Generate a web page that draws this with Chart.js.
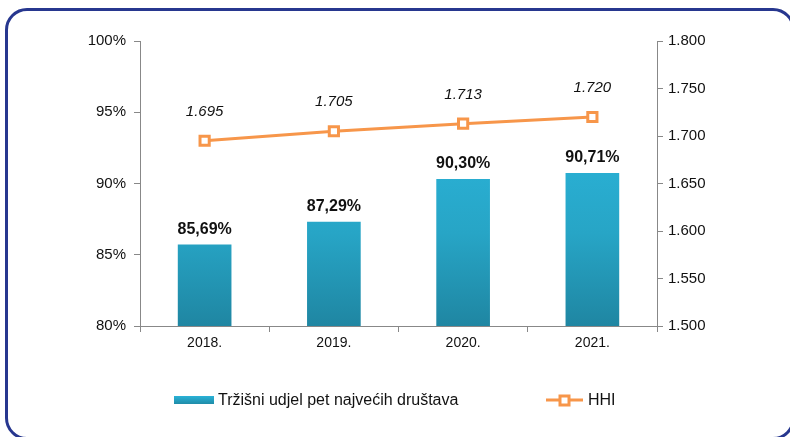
<!DOCTYPE html>
<html>
<head>
<meta charset="utf-8">
<script src="https://cdn.jsdelivr.net/npm/chart.js@4.4.1/dist/chart.umd.min.js"></script>
<style>
  html, body { margin: 0; padding: 0; background: #fff; overflow: hidden; }
  #wrap { position: relative; width: 790px; height: 437px; }
  #frame {
    position: absolute; left: 5px; top: 8px; width: 790px; height: 432px;
    border: 3px solid #27378f; border-radius: 22px; box-sizing: border-box;
  }
  canvas { position: absolute; left: 0; top: 0; }
</style>
</head>
<body>
<div id="wrap">
  <div id="frame"></div>
  <canvas id="chart" width="790" height="437"></canvas>
</div>
<script>
// podaci s grafikona
const years = ["2018.", "2019.", "2020.", "2021."];
const shareTop5 = [85.69, 87.29, 90.30, 90.71];
const hhi = [1695, 1705, 1713, 1720];
const barLabel = "Tržišni udjel pet najvećih društava";
const lineLabel = "HHI";

const ORANGE = "#f7964a";
const FONT = "'Liberation Sans', Arial, sans-serif";

function fmtThousands(v) {
    const s = Math.round(v).toString();
    return s.replace(/\B(?=(\d{3})+(?!\d))/g, ".");
}

function barGradient(ctx) {
    const chart = ctx.chart;
    const area = chart.chartArea;
    if (!area) return "#27a9cc";
    const g = chart.ctx.createLinearGradient(0, area.top + 100, 0, area.bottom);
    g.addColorStop(0, "#2ab2d7");
    g.addColorStop(0.5, "#27a5c6");
    g.addColorStop(1, "#1f86a2");
    return g;
}

// oznake vrijednosti iznad stupaca i točaka
const valueLabels = {
    id: "valueLabels",
    afterDatasetsDraw(chart) {
        const ctx = chart.ctx;
        ctx.save();
        ctx.textAlign = "center";
        ctx.textBaseline = "alphabetic";
        ctx.fillStyle = "#111";

        const barMeta = chart.getDatasetMeta(0);
        ctx.font = "bold 16px " + FONT;
        barMeta.data.forEach((el, i) => {
            const txt = shareTop5[i].toFixed(2).replace(".", ",") + "%";
            ctx.fillText(txt, el.x, el.y - 11);
        });

        const lineMeta = chart.getDatasetMeta(1);
        ctx.font = "italic 15px " + FONT;
        lineMeta.data.forEach((el, i) => {
            ctx.fillText(fmtThousands(hhi[i]), el.x, el.y - 25);
        });
        ctx.restore();
    }
};

// legenda ispod grafikona
const customLegend = {
    id: "customLegend",
    afterDraw(chart) {
        const ctx = chart.ctx;
        const y = 400;
        ctx.save();
        ctx.font = "16px " + FONT;
        ctx.textBaseline = "middle";
        ctx.fillStyle = "#111";

        // stupac
        let x = 174;
        const g = ctx.createLinearGradient(0, y - 4, 0, y + 4);
        g.addColorStop(0, "#2ab2d7");
        g.addColorStop(1, "#1f8ca8");
        ctx.fillStyle = g;
        ctx.fillRect(x, y - 4, 40, 8);
        ctx.fillStyle = "#111";
        ctx.fillText(chart.data.datasets[0].label, x + 44, y + 1);

        // linija
        x = 546;
        ctx.strokeStyle = ORANGE;
        ctx.lineWidth = 3;
        ctx.beginPath();
        ctx.moveTo(x, y);
        ctx.lineTo(x + 37, y);
        ctx.stroke();
        ctx.fillStyle = "#fff";
        ctx.fillRect(x + 14, y - 4, 9, 9);
        ctx.strokeRect(x + 14, y - 4, 9, 9);
        ctx.fillStyle = "#111";
        ctx.fillText(chart.data.datasets[1].label, x + 42, y + 1);
        ctx.restore();
    }
};

const canvas = document.getElementById("chart");

new Chart(canvas.getContext("2d"), {
    type: "bar",
    data: {
        labels: years,
        datasets: [
            {
                type: "bar",
                label: barLabel,
                data: shareTop5,
                yAxisID: "y",
                backgroundColor: barGradient,
                barThickness: 53,
                order: 2
            },
            {
                type: "line",
                label: lineLabel,
                data: hhi,
                yAxisID: "y2",
                borderColor: ORANGE,
                borderWidth: 3,
                pointStyle: "rect",
                pointRadius: 6.5,
                pointBorderWidth: 3,
                pointBackgroundColor: "#fff",
                pointBorderColor: ORANGE,
                tension: 0,
                order: 1
            }
        ]
    },
    options: {
        responsive: false,
        animation: false,
        layout: { padding: { left: 0, right: 0, top: 41, bottom: 81 } },
        plugins: {
            legend: { display: false },
            tooltip: { enabled: false }
        },
        scales: {
            x: {
                grid: { display: true, drawOnChartArea: false, color: "#888", tickLength: 6, offset: true },
                border: { color: "#888", width: 1 },
                ticks: { color: "#111", font: { family: FONT, size: 14 }, padding: 3 },
                afterFit(scale) { scale.height = 30; }
            },
            y: {
                position: "left",
                min: 80, max: 100,
                grid: { drawOnChartArea: false, color: "#888", tickLength: 6 },
                border: { color: "#888", width: 1 },
                ticks: {
                    stepSize: 5,
                    color: "#111",
                    font: { family: FONT, size: 15 },
                    padding: 8,
                    callback: v => v + "%"
                },
                afterFit(scale) { scale.width = 140; }
            },
            y2: {
                position: "right",
                min: 1500, max: 1800,
                grid: { drawOnChartArea: false, color: "#888", tickLength: 6 },
                border: { color: "#888", width: 1 },
                ticks: {
                    stepSize: 50,
                    color: "#111",
                    font: { family: FONT, size: 15 },
                    padding: 5,
                    callback: v => fmtThousands(v)
                },
                afterFit(scale) { scale.width = 133; }
            }
        }
    },
    plugins: [valueLabels, customLegend]
});
</script>
</body>
</html>
